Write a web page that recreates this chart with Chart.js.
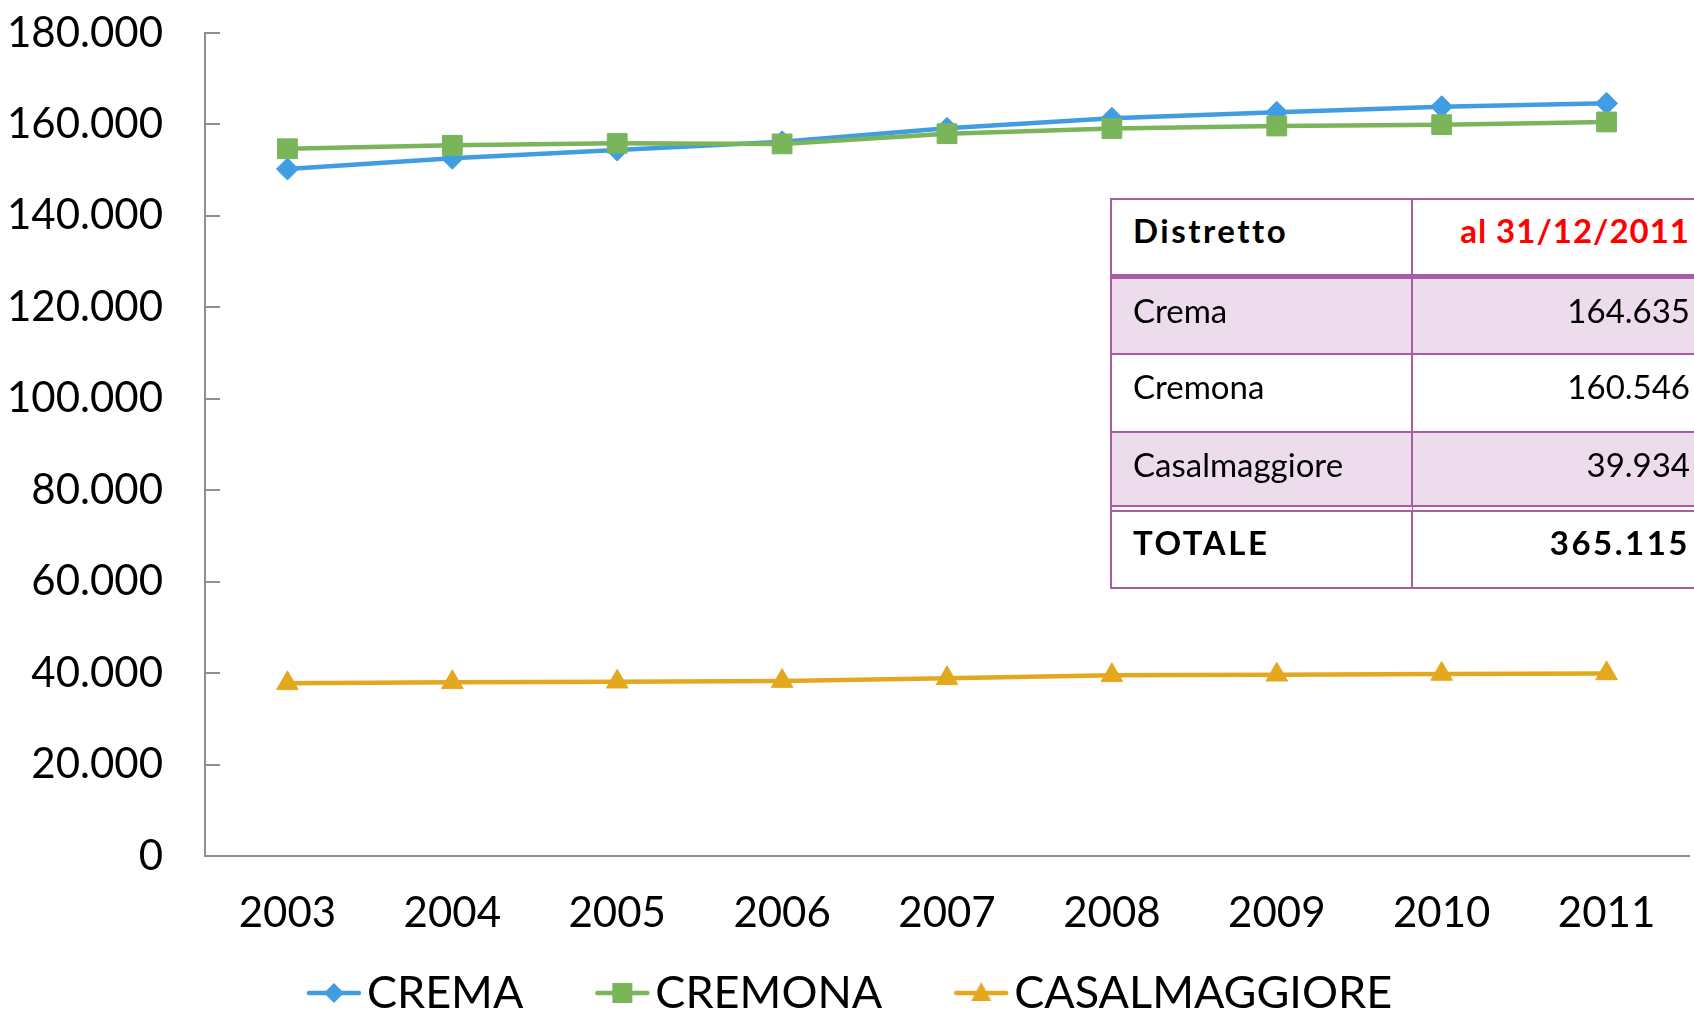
<!DOCTYPE html>
<html>
<head>
<meta charset="utf-8">
<title>Popolazione per distretto</title>
<script src="https://cdn.jsdelivr.net/npm/chart.js@4.4.1/dist/chart.umd.min.js"></script>
<style>
  html, body { margin: 0; padding: 0; background: #fff; overflow: hidden; }
  #wrap { position: relative; width: 1694px; height: 1012px; overflow: hidden; }
  #chart { position: absolute; left: 0; top: 0; }
  #tbl {
    position: absolute; left: 1110px; top: 198px;
    border-collapse: separate; border-spacing: 0;
    table-layout: fixed; width: 600px;
    font-family: 'Lato', sans-serif; font-size: 33px; line-height: 40px; color: #000;
    border-top: 2px solid #ab5aa4; border-left: 2px solid #ab5aa4;
  }
  #tbl td {
    box-sizing: border-box; vertical-align: top;
    border-right: 2px solid #ab5aa4; border-bottom: 2px solid #ab5aa4;
    padding: 11px 20px 0 21px; white-space: nowrap; overflow: hidden;
  }
  #tbl td.num { text-align: right; }
  #tbl tr.head td { height: 79px; border-bottom-width: 5px; padding-top: 10px; font-weight: bold; letter-spacing: 2.5px; background: #fff; }
  #tbl tr.head td.num { color: #ff0000; letter-spacing: 1px; }
  #tbl tr.band td { background: #eddcec; }
  #tbl tr.plain td { background: #fff; }
  #tbl tr.last td { border-bottom: none; }
  #tbl tr.tot td { border-top: 7px double #ab5aa4; font-weight: bold; letter-spacing: 2.5px; background: #fff; height: 84px; padding-top: 10px; }
</style>
</head>
<body>
<div id="wrap">
  <canvas id="chart" width="1694" height="1012"></canvas>
  <table id="tbl"><colgroup><col style="width:301px"><col style="width:299px"></colgroup><tbody id="tbody"></tbody></table>
</div>
<script>
const years = ['2003', '2004', '2005', '2006', '2007', '2008', '2009', '2010', '2011'];
const seriesNames = ['CREMA', 'CREMONA', 'CASALMAGGIORE'];
const crema = [150250, 152600, 154400, 156200, 159150, 161340, 162650, 163880, 164635];
const cremona = [154690, 155440, 155870, 155750, 157980, 159110, 159660, 159950, 160546];
const casalmaggiore = [37760, 37980, 38110, 38260, 38850, 39510, 39640, 39800, 39934];
const yTicks = [0, 20000, 40000, 60000, 80000, 100000, 120000, 140000, 160000, 180000];

const tableHeader = ['Distretto', 'al 31/12/2011'];
const tableNames = ['Crema', 'Cremona', 'Casalmaggiore'];
const totalLabel = 'TOTALE';

const colors = ['#419de2', '#7ab55a', '#e4a81e'];
const axisColor = '#8f8f8f';
const FONT = 'Lato';

const fmt = (v) => String(Math.round(v)).replace(/\B(?=(\d{3})+(?!\d))/g, '.');

// table overlay, values taken from the last year of each series
const buildTable = () => {
    const last = [crema, cremona, casalmaggiore].map(s => s[s.length - 1]);
    const total = last.reduce((a, b) => a + b, 0);
    const rows = [];
    rows.push(`<tr class="head"><td>${tableHeader[0]}</td><td class="num">${tableHeader[1]}</td></tr>`);
    const heights = [76, 78, 72];
    tableNames.forEach((name, i) => {
        const cls = (i % 2 === 0 ? 'band' : 'plain') + (i === tableNames.length - 1 ? ' last' : '');
        rows.push(`<tr class="${cls}"><td style="height:${heights[i]}px">${name}</td><td class="num" style="height:${heights[i]}px">${fmt(last[i])}</td></tr>`);
    });
    rows.push(`<tr class="tot"><td>${totalLabel}</td><td class="num">${fmt(total)}</td></tr>`);
    document.getElementById('tbody').innerHTML = rows.join('');
};

// small line + marker pictures for the legend
const makeIcon = (color, shape) => {
    const c = document.createElement('canvas');
    c.width = 56; c.height = 26;
    const g = c.getContext('2d');
    const cy = 13, cx = 28;
    g.strokeStyle = color;
    g.fillStyle = color;
    g.lineWidth = 4.5;
    g.lineCap = 'round';
    g.beginPath(); g.moveTo(3, cy); g.lineTo(53, cy); g.stroke();
    g.beginPath();
    if (shape === 'diamond') {
        g.moveTo(cx, cy - 10); g.lineTo(cx + 10, cy); g.lineTo(cx, cy + 10); g.lineTo(cx - 10, cy);
    } else if (shape === 'square') {
        g.rect(cx - 10, cy - 10, 20, 20);
    } else {
        g.moveTo(cx, cy - 11); g.lineTo(cx + 10, cy + 8); g.lineTo(cx - 10, cy + 8);
    }
    g.closePath();
    g.fill();
    return c;
};
const legendIcons = [makeIcon(colors[0], 'diamond'), makeIcon(colors[1], 'square'), makeIcon(colors[2], 'triangle')];

// tick marks drawn inside the plot, as in the original
const innerTicks = {
    id: 'innerTicks',
    beforeDatasetsDraw(chart) {
        const ys = chart.scales.y;
        const ctx = chart.ctx;
        ctx.save();
        ctx.strokeStyle = axisColor;
        ctx.lineWidth = 2;
        ys.ticks.forEach((t, i) => {
            const py = Math.round(ys.getPixelForTick(i));
            ctx.beginPath();
            ctx.moveTo(ys.right, py);
            ctx.lineTo(ys.right + 15, py);
            ctx.stroke();
        });
        ctx.restore();
    }
};

// legend row under the axis: line + marker, then the series name
const lineLegend = {
    id: 'lineLegend',
    afterDraw(chart) {
        const ctx = chart.ctx;
        const legendY = 993;
        const legendCenter = 849;
        const gapText = 5, gapItem = 71;
        ctx.save();
        ctx.font = `45px ${FONT}`;
        ctx.textBaseline = 'middle';
        ctx.textAlign = 'left';
        ctx.fillStyle = '#000';
        const items = chart.data.datasets.map((d, i) => ({
            text: d.label, icon: legendIcons[i], w: ctx.measureText(d.label).width
        }));
        const total = items.reduce((s, it) => s + it.icon.width + gapText + it.w, 0) + gapItem * (items.length - 1);
        let x = legendCenter - total / 2;
        items.forEach(it => {
            ctx.drawImage(it.icon, x, legendY - it.icon.height / 2);
            ctx.fillText(it.text, x + it.icon.width + gapText, legendY);
            x += it.icon.width + gapText + it.w + gapItem;
        });
        ctx.restore();
    }
};

const makeChart = () => {
    const ctx = document.getElementById('chart').getContext('2d');
    const ds = (i, data, style, radius, order) => ({
        label: seriesNames[i],
        data: data,
        borderColor: colors[i],
        backgroundColor: colors[i],
        borderWidth: 4.5,
        pointStyle: style,
        pointRadius: radius,
        pointBorderWidth: 1,
        pointBackgroundColor: colors[i],
        pointBorderColor: colors[i],
        tension: 0,
        order: order
    });
    new Chart(ctx, {
        type: 'line',
        data: {
            labels: years,
            datasets: [
                ds(0, crema, 'rectRot', 11, 2),
                ds(1, cremona, 'rect', 14, 1),
                ds(2, casalmaggiore, 'triangle', 12.5, 3)
            ]
        },
        options: {
            responsive: false,
            animation: false,
            devicePixelRatio: 1,
            layout: { autoPadding: false, padding: { top: 33, left: 0, right: 5, bottom: 0 } },
            plugins: {
                tooltip: { enabled: false },
                legend: { display: false }
            },
            scales: {
                x: {
                    offset: true,
                    grid: { display: true, drawOnChartArea: false, drawTicks: false },
                    border: { color: axisColor, width: 2 },
                    ticks: { color: '#000', padding: 32, font: { family: FONT, size: 42 }, maxRotation: 0 },
                    afterFit(scale) {
                        scale.height = 156;
                        scale.paddingLeft = 0;
                        scale.paddingRight = 0;
                    }
                },
                y: {
                    min: 0,
                    max: 180000,
                    grid: { display: true, drawOnChartArea: false, drawTicks: false },
                    border: { color: axisColor, width: 2 },
                    afterBuildTicks(scale) { scale.ticks = yTicks.map(v => ({ value: v })); },
                    ticks: {
                        color: '#000',
                        padding: 42,
                        font: { family: FONT, size: 42 },
                        callback: (v) => fmt(v)
                    },
                    afterFit(scale) {
                        scale.width = 205;
                        scale.paddingTop = 0;
                        scale.paddingBottom = 0;
                    }
                }
            }
        },
        plugins: [innerTicks, lineLegend]
    });
};

buildTable();
document.fonts.load('42px Lato').then(makeChart, makeChart);
</script>
</body>
</html>
